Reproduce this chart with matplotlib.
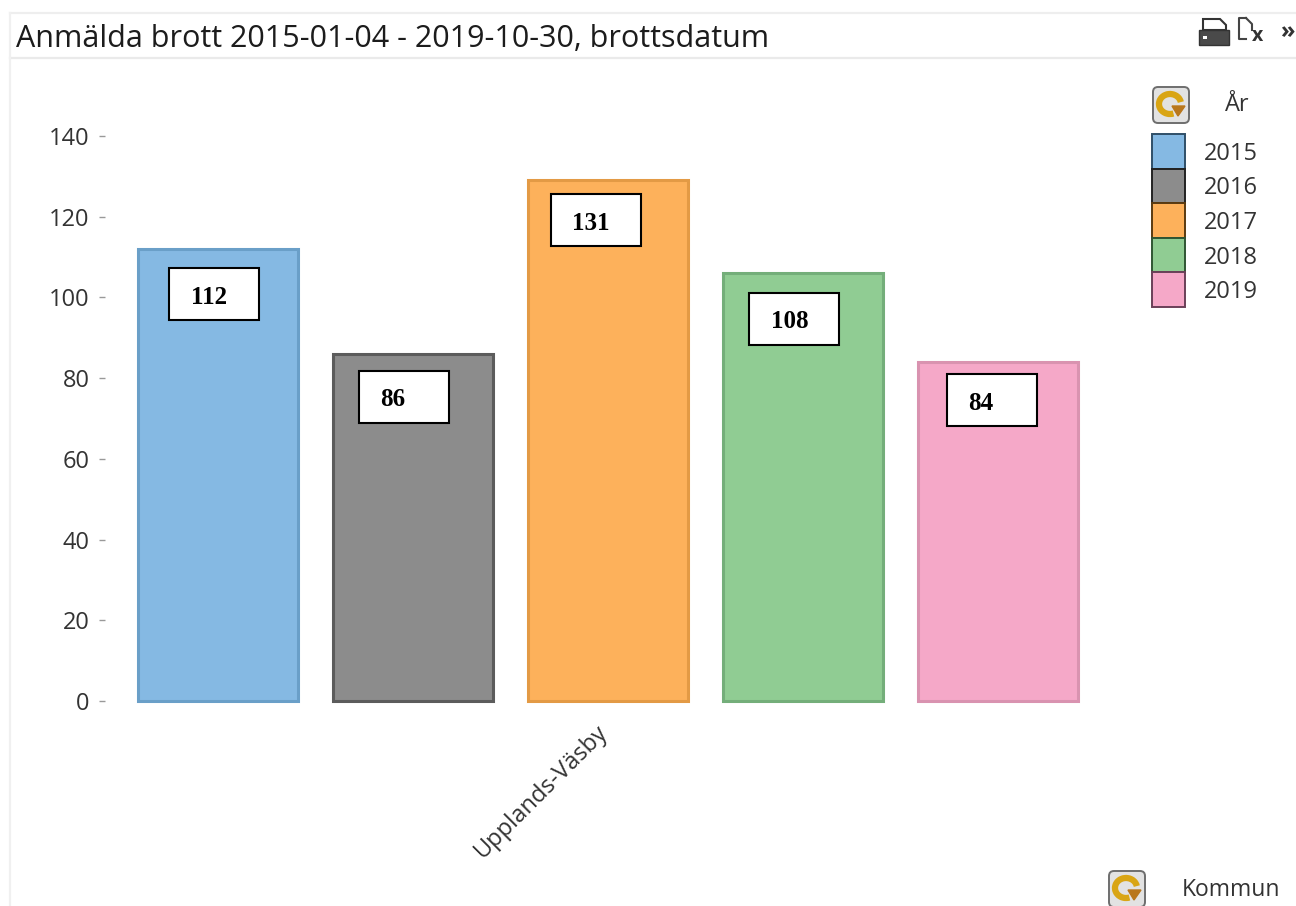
import matplotlib
matplotlib.use('Agg')
import matplotlib.pyplot as plt
from matplotlib.patches import Rectangle, FancyBboxPatch, Arc, Polygon
from matplotlib.transforms import ScaledTranslation

plt.rcParams['font.family'] = ['Open Sans', 'DejaVu Sans']

# Data
years = ['2015', '2016', '2017', '2018', '2019']
bar_heights = [112, 86, 129, 106, 84]
bar_labels = ['112', '86', '131', '108', '84']
y_ticks = [0, 20, 40, 60, 80, 100, 120, 140]
category = 'Upplands-Väsby'
title = 'Anmälda brott 2015-01-04 - 2019-10-30, brottsdatum'

fill_colors = ['#85B9E3', '#8C8C8C', '#FDB15B', '#90CC93', '#F5A8C8']
edge_colors = ['#6A9FC8', '#5C5C5C', '#E39A45', '#74AE7A', '#D993B0']
legend_edges = ['#2F4F68', '#222222', '#5A3A10', '#2F5533', '#6A4058']

# label box positions in pixels (left, top)
box_left = [169, 359, 551, 749, 947]
box_top = [268, 371, 194, 293, 374]
label_x = [209, 393, 591, 790, 981]

W, H = 1296, 906
fig = plt.figure(figsize=(W / 100, H / 100), dpi=100, facecolor='white')

# pixel overlay for the window chrome, drawn behind and in front of the chart
bg = fig.add_axes([0, 0, 1, 1], zorder=0)
bg.set_xlim(0, W)
bg.set_ylim(H, 0)
bg.axis('off')
bg.plot([10, W], [13, 13], color='#EEEEEE', lw=1.6)
bg.plot([10, W], [58, 58], color='#EAEAEA', lw=1.6)
bg.plot([10, 10], [13, H], color='#F0F0F0', lw=1.6)
bg.text(16, 39, title, fontsize=22, color='#1c1c1c', va='center', ha='left')

# Main chart
left, right, top, bottom = 105, 1112, 100, 701
ax = fig.add_axes([left / W, 1 - bottom / H, (right - left) / W, (bottom - top) / H],
                  zorder=1)
ax.patch.set_alpha(0)
ax.bar(range(5), bar_heights, width=0.82, color=fill_colors,
       edgecolor=edge_colors, linewidth=2.2, clip_on=False)
ax.set_xlim((left - 218) / 195, (right - 218) / 195)
ax.set_ylim(0, (bottom - top) / 4.036)
ax.set_yticks(y_ticks)
ax.set_xticks([2.0])
ax.set_xticklabels([category], rotation=45, ha='right', rotation_mode='anchor',
                   fontsize=17, color='#333333')
for s in ax.spines.values():
    s.set_visible(False)
ax.tick_params(axis='y', length=4, width=1, color='#999999', labelsize=17,
               labelcolor='#333333', pad=7)
ax.tick_params(axis='x', length=0, pad=14)
# the rotated label sits a little left of the tick
for lab in ax.get_xticklabels():
    lab.set_transform(lab.get_transform() + ScaledTranslation(-0.12, 0, fig.dpi_scale_trans))

# Overlay
fg = fig.add_axes([0, 0, 1, 1], zorder=2)
fg.set_xlim(0, W)
fg.set_ylim(H, 0)
fg.axis('off')
fg.patch.set_alpha(0)

# value boxes
for i, lab in enumerate(bar_labels):
    fg.add_patch(Rectangle((box_left[i], box_top[i]), 90, 52, facecolor='white',
                           edgecolor='black', lw=1.5))
    fg.text(label_x[i], box_top[i] + 29, lab, family='Liberation Serif',
            fontweight='bold', fontsize=18, color='black', ha='center', va='center')

# legend
for i, yr in enumerate(years):
    fg.add_patch(Rectangle((1151.5, 134 + i * 34.5), 33.5, 34.5,
                           facecolor=fill_colors[i], edgecolor=legend_edges[i], lw=1.4))
    fg.text(1204, 154 + i * 34.5, yr, fontsize=17, color='#333333', va='center')
fg.text(1225, 105, 'År', fontsize=17, color='#333333', va='center')
fg.text(1182, 890, 'Kommun', fontsize=16.5, color='#333333', va='center')


# refresh buttons
def refresh_icon(cx, cy):
    fg.add_patch(FancyBboxPatch((cx - 18, cy - 18), 36, 36,
                                boxstyle='round,pad=0,rounding_size=5',
                                facecolor='#E2E2E2', edgecolor='#6E6E6E', lw=1.4))
    fg.add_patch(Arc((cx - 1, cy - 1), 22, 20, theta1=70, theta2=350,
                     color='#D9A514', lw=4.5))
    fg.add_patch(Polygon([[cx + 1, cy + 1], [cx + 14, cy + 1], [cx + 7, cy + 11]],
                         color='#B9771C'))


refresh_icon(1171, 105)
refresh_icon(1127, 889)

# print icon
fg.add_patch(Polygon([[1203, 30], [1203, 19], [1220, 19], [1226, 25], [1226, 30]],
                     facecolor='white', edgecolor='#333333', lw=1.5))
fg.add_patch(Rectangle((1199, 30), 30, 15, facecolor='#4A4A4A', edgecolor='#333333', lw=1))
fg.add_patch(Rectangle((1203, 36), 4, 3, facecolor='white', edgecolor='none'))

# export icon
fg.plot([1246, 1239, 1239, 1246], [39, 39, 18, 18], color='#444444', lw=1.5)
fg.plot([1246, 1252, 1252], [18, 24, 30], color='#444444', lw=1.5)
fg.text(1258, 36, 'x', fontsize=14, fontweight='bold', color='#333333',
        ha='center', va='center')
fg.text(1287, 32, '»', fontsize=17, fontweight='bold', color='#333333',
        ha='center', va='center')

fig.savefig('out.png', dpi=100)
